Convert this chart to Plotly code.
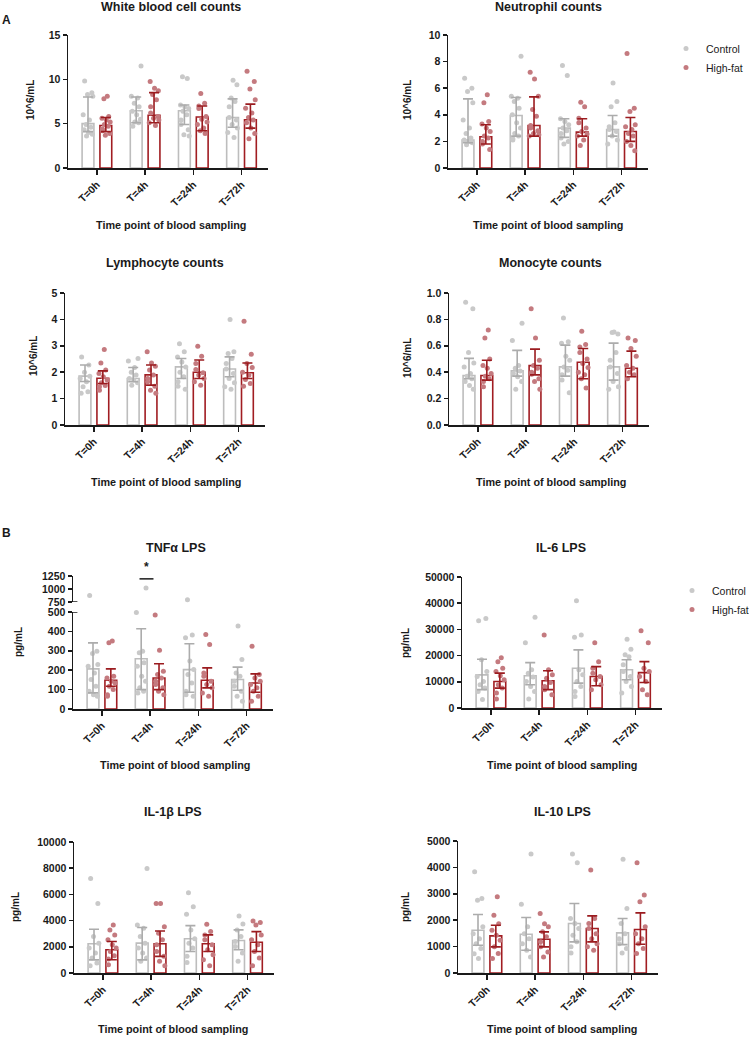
import plotly.graph_objects as go

W, H = 749, 1037
TIMES = ["T=0h", "T=4h", "T=24h", "T=72h"]
GROUPS = ["Control", "High-fat"]

# ---------------- data (median, Q1, Q3, individual points) ----------------
# White blood cell counts (10^6/mL)
WBC_CTRL_MED = [5.0, 6.45, 6.45, 5.7]
WBC_CTRL_LO = [4.1, 5.1, 4.9, 4.6]
WBC_CTRL_HI = [8.0, 8.0, 7.1, 7.8]
WBC_HF_MED = [4.8, 5.95, 5.75, 5.45]
WBC_HF_LO = [4.1, 5.1, 4.2, 4.5]
WBC_HF_HI = [5.7, 8.5, 7.0, 7.2]
WBC_CTRL_PTS = [[9.8, 8.5, 8.3, 8.1, 6.0, 5.4, 4.9, 4.6, 4.3, 4.0, 3.8, 3.6],
                [11.5, 8.1, 7.9, 7.3, 6.9, 6.4, 6.0, 5.5, 5.2, 5.1, 4.7],
                [10.3, 10.1, 7.1, 6.9, 6.7, 6.4, 6.0, 5.4, 4.9, 4.3, 3.75, 3.6],
                [9.9, 9.4, 7.9, 7.5, 6.9, 5.7, 5.4, 4.9, 4.5, 4.0, 3.45]]
WBC_HF_PTS = [[8.1, 7.8, 5.8, 5.6, 5.4, 5.2, 4.9, 4.7, 4.4, 4.2, 3.9, 3.7],
              [9.75, 9.0, 8.7, 8.3, 7.7, 6.9, 6.2, 5.8, 5.6, 5.4, 5.1, 4.8],
              [8.4, 7.3, 7.0, 6.7, 5.8, 5.5, 5.2, 4.9, 4.5, 4.2, 3.9],
              [10.9, 9.75, 8.9, 7.7, 6.75, 6.2, 5.7, 5.4, 5.1, 4.5, 3.9, 3.3]]

# Neutrophil counts (10^6/mL)
NEU_CTRL_MED = [2.1, 3.95, 3.0, 2.9]
NEU_CTRL_LO = [1.9, 2.4, 2.3, 2.4]
NEU_CTRL_HI = [5.2, 5.3, 3.7, 3.95]
NEU_HF_MED = [2.35, 3.2, 2.7, 2.75]
NEU_HF_LO = [1.8, 2.4, 2.4, 2.0]
NEU_HF_HI = [3.25, 5.35, 3.7, 3.8]
NEU_CTRL_PTS = [[6.75, 6.0, 5.75, 4.9, 3.6, 3.0, 2.6, 2.25, 2.1, 2.0, 1.9, 1.75],
                [8.4, 5.4, 5.25, 5.0, 4.5, 4.0, 3.4, 3.0, 2.6, 2.4, 2.2, 2.1],
                [7.7, 6.95, 3.7, 3.5, 3.25, 3.0, 2.8, 2.6, 2.25, 2.0, 1.8],
                [6.4, 5.0, 4.6, 3.4, 3.1, 2.9, 2.75, 2.4, 2.1, 1.8]]
NEU_HF_PTS = [[5.5, 4.9, 3.5, 3.3, 3.0, 2.75, 2.4, 2.25, 2.0, 1.8, 1.4],
              [7.2, 6.7, 5.4, 4.4, 3.9, 3.2, 3.0, 2.8, 2.6, 2.5, 2.4],
              [4.95, 4.6, 3.75, 3.4, 3.0, 2.75, 2.55, 2.4, 2.1, 1.7],
              [8.6, 4.5, 4.25, 3.25, 3.1, 2.9, 2.6, 2.4, 2.0, 1.7, 1.3]]

# Lymphocyte counts (10^6/mL)
LYM_CTRL_MED = [1.85, 1.76, 2.2, 2.12]
LYM_CTRL_LO = [1.65, 1.64, 1.76, 1.83]
LYM_CTRL_HI = [2.27, 2.18, 2.52, 2.58]
LYM_HF_MED = [1.77, 1.9, 2.0, 1.98]
LYM_HF_LO = [1.57, 1.51, 1.76, 1.76]
LYM_HF_HI = [2.05, 2.27, 2.46, 2.35]
LYM_CTRL_PTS = [[2.58, 2.27, 2.0, 1.85, 1.76, 1.64, 1.45, 1.26, 1.2],
                [2.52, 2.42, 2.18, 2.0, 1.89, 1.76, 1.7, 1.6, 1.51],
                [3.08, 2.77, 2.58, 2.39, 2.2, 2.0, 1.83, 1.64, 1.47, 1.35],
                [4.0, 2.77, 2.71, 2.52, 2.33, 2.12, 1.95, 1.76, 1.6, 1.45, 1.35]]
LYM_HF_PTS = [[2.86, 2.35, 2.08, 1.95, 1.83, 1.7, 1.6, 1.5, 1.45, 1.32],
              [2.77, 2.35, 2.23, 2.08, 1.89, 1.76, 1.64, 1.47, 1.32, 1.2],
              [2.98, 2.6, 2.33, 2.1, 1.98, 1.89, 1.76, 1.64, 1.51],
              [3.93, 2.68, 2.33, 2.18, 2.0, 1.89, 1.72, 1.57, 1.47]]

# Monocyte counts (10^6/mL)
MON_CTRL_MED = [0.375, 0.41, 0.44, 0.44]
MON_CTRL_LO = [0.35, 0.37, 0.37, 0.34]
MON_CTRL_HI = [0.505, 0.565, 0.605, 0.62]
MON_HF_MED = [0.375, 0.45, 0.475, 0.43]
MON_HF_LO = [0.34, 0.38, 0.35, 0.365]
MON_HF_HI = [0.49, 0.575, 0.58, 0.56]
MON_CTRL_PTS = [[0.93, 0.88, 0.55, 0.47, 0.44, 0.39, 0.37, 0.35, 0.33, 0.30, 0.27],
                [0.77, 0.64, 0.45, 0.43, 0.41, 0.39, 0.365, 0.33, 0.27],
                [0.81, 0.63, 0.62, 0.52, 0.49, 0.44, 0.415, 0.38, 0.34, 0.245],
                [0.705, 0.69, 0.70, 0.55, 0.49, 0.44, 0.39, 0.33, 0.29, 0.27]]
MON_HF_PTS = [[0.72, 0.66, 0.50, 0.45, 0.43, 0.39, 0.37, 0.35, 0.33, 0.29],
              [0.88, 0.66, 0.49, 0.45, 0.43, 0.40, 0.385, 0.35, 0.33, 0.27],
              [0.71, 0.61, 0.59, 0.55, 0.50, 0.465, 0.435, 0.40, 0.38, 0.35, 0.28],
              [0.66, 0.64, 0.58, 0.52, 0.45, 0.43, 0.40, 0.38, 0.35]]

# TNF-alpha LPS (pg/mL)
TNF_CTRL_MED = [207, 259, 203, 152]
TNF_CTRL_LO = [83, 100, 86, 97]
TNF_CTRL_HI = [341, 414, 336, 216]
TNF_HF_MED = [148, 160, 148, 134]
TNF_HF_LO = [117, 100, 109, 86]
TNF_HF_HI = [207, 233, 212, 181]
TNF_CTRL_PTS = [[877, 298, 286, 229, 221, 186, 152, 117, 91, 74, 66],
                [1018, 497, 298, 290, 238, 221, 169, 143, 109, 91, 83],
                [792, 381, 367, 247, 203, 178, 134, 91, 74, 66],
                [428, 255, 186, 169, 143, 117, 91, 66, 40]]
TNF_HF_PTS = [[350, 341, 169, 160, 143, 134, 117, 100, 74, 66],
              [484, 303, 195, 178, 160, 143, 126, 109, 91, 74],
              [384, 333, 186, 169, 143, 126, 109, 83, 66],
              [324, 178, 160, 143, 126, 109, 91, 66, 40]]

# IL-6 LPS (pg/mL)
IL6_CTRL_MED = [12660, 12300, 15200, 14600]
IL6_CTRL_LO = [7000, 8900, 9500, 10800]
IL6_CTRL_HI = [18600, 17300, 22200, 18400]
IL6_HF_MED = [10100, 10400, 12000, 13500]
IL6_HF_LO = [7600, 7000, 8500, 9750]
IL6_HF_HI = [13300, 14200, 15800, 17700]
IL6_CTRL_PTS = [[33300, 34200, 18400, 13900, 12000, 10100, 8900, 7600, 6300, 3200],
                [34600, 24900, 14600, 13300, 11800, 10100, 8200, 6300, 3400],
                [40900, 27900, 27000, 14600, 12700, 10100, 8200, 6300, 4400],
                [26200, 22400, 20300, 19600, 16500, 13900, 12000, 10100, 8200, 5700]]
IL6_HF_PTS = [[19200, 17700, 15200, 13900, 12300, 10800, 8900, 7600, 5700, 3400],
              [27900, 14600, 12700, 11400, 9750, 8200, 7000, 5100],
              [24900, 17700, 15200, 13300, 12000, 10800, 8900, 7000],
              [29500, 24900, 15200, 13900, 12000, 10100, 7000, 5100]]

# IL-1beta LPS (pg/mL)
IL1_CTRL_MED = [2230, 2280, 2610, 2480]
IL1_CTRL_LO = [1000, 1000, 1640, 1770]
IL1_CTRL_HI = [3340, 3470, 3620, 3290]
IL1_HF_MED = [1770, 2230, 2230, 2350]
IL1_HF_LO = [1010, 1270, 1640, 1640]
IL1_HF_HI = [2400, 3210, 2910, 3160]
IL1_CTRL_PTS = [[7210, 5310, 2780, 2280, 1900, 1520, 1140, 760, 560],
                [7970, 3670, 3420, 2780, 2280, 1900, 1520, 1140, 890],
                [6120, 5060, 4480, 3290, 2610, 2280, 1900, 1270, 810],
                [4350, 3740, 3290, 2780, 2400, 2020, 1520, 890]]
IL1_HF_PTS = [[3670, 3290, 2910, 2530, 2150, 1900, 1640, 1320, 1060, 630],
              [5310, 5300, 3540, 3040, 2530, 2150, 1640, 1270, 890, 560],
              [3720, 3160, 2910, 2530, 2150, 1770, 1390, 1010, 560],
              [3970, 3850, 3670, 2910, 2530, 2150, 1640, 1140, 560]]

# IL-10 LPS (pg/mL)
IL10_CTRL_MED = [1620, 1470, 1874, 1520]
IL10_CTRL_LO = [1050, 860, 1180, 1076]
IL10_CTRL_HI = [2215, 2100, 2633, 2063]
IL10_HF_MED = [1405, 1280, 1684, 1646]
IL10_HF_LO = [990, 990, 1180, 1090]
IL10_HF_HI = [1810, 1557, 2165, 2279]
IL10_CTRL_PTS = [[3836, 2823, 2760, 1750, 1490, 1300, 1110, 925, 730, 545],
                 [4507, 2608, 1750, 1490, 1300, 1110, 860, 610],
                 [4507, 4178, 2063, 1874, 1684, 1430, 1180, 990, 760],
                 [4304, 2443, 1874, 1490, 1300, 1110, 925, 760]]
IL10_HF_PTS = [[2886, 2190, 1870, 1620, 1430, 1240, 990, 735, 545],
               [2253, 1870, 1750, 1560, 1370, 1180, 990, 800, 610],
               [3900, 2063, 1874, 1684, 1490, 1300, 1110, 990, 860],
               [4178, 2950, 2700, 1750, 1490, 1300, 1110, 925, 735]]

# ---------------- styling ----------------
FONT = "Liberation Sans, Arial, Helvetica, sans-serif"
TXT = "#1a1a1a"
CTRL_LINE = "#bdbdbd"
CTRL_DOT = "#c9c9c9"
CTRL_ERR = "#acacac"
HF_LINE = "#a11d22"
HF_DOT = "#c47a7f"
HF_ERR = "#9b1b1f"
OFF = 0.185
BW = 0.245
JIT = [-0.07, 0.08, -0.01, 0.10, -0.10, 0.03, -0.04, 0.06, -0.08, 0.01, 0.09, -0.03, 0.05, -0.07]
XR = [-0.6, 3.55]


def pxx(p):
    return p / W


def pxy(p):
    return 1 - p / H


panels = [
    dict(k=1, title="White blood cell counts", ylab="10^6/mL", x0=68, ytop=35, ybot=168,
         yr=[0, 15], tv=[0, 5, 10, 15], fmt="d",
         d=(WBC_CTRL_MED, WBC_CTRL_LO, WBC_CTRL_HI, WBC_HF_MED, WBC_HF_LO, WBC_HF_HI, WBC_CTRL_PTS, WBC_HF_PTS),
         tpos=(171, 7), ypos=(30, 100), xtpos=(171, 225), leg=None),
    dict(k=2, title="Neutrophil counts", ylab="10^6/mL", x0=448, ytop=35, ybot=168,
         yr=[0, 10], tv=[0, 2, 4, 6, 8, 10], fmt="d",
         d=(NEU_CTRL_MED, NEU_CTRL_LO, NEU_CTRL_HI, NEU_HF_MED, NEU_HF_LO, NEU_HF_HI, NEU_CTRL_PTS, NEU_HF_PTS),
         tpos=(548, 7), ypos=(407, 100), xtpos=(548, 225), leg="legend"),
    dict(k=3, title="Lymphocyte counts", ylab="10^6/mL", x0=65, ytop=293, ybot=425,
         yr=[0, 5], tv=[0, 1, 2, 3, 4, 5], fmt="d",
         d=(LYM_CTRL_MED, LYM_CTRL_LO, LYM_CTRL_HI, LYM_HF_MED, LYM_HF_LO, LYM_HF_HI, LYM_CTRL_PTS, LYM_HF_PTS),
         tpos=(165, 263), ypos=(33, 356), xtpos=(166, 482), leg=None),
    dict(k=4, title="Monocyte counts", ylab="10^6/mL", x0=449, ytop=293, ybot=425,
         yr=[0, 1.0], tv=[0, 0.2, 0.4, 0.6, 0.8, 1.0], fmt=".1f",
         d=(MON_CTRL_MED, MON_CTRL_LO, MON_CTRL_HI, MON_HF_MED, MON_HF_LO, MON_HF_HI, MON_CTRL_PTS, MON_HF_PTS),
         tpos=(550, 263), ypos=(407, 358), xtpos=(551, 482), leg=None),
    dict(k=5, title="TNFα LPS", ylab="pg/mL", x0=73, ytop=612, ybot=709,
         yr=[0, 500], tv=[0, 100, 200, 300, 400, 500], fmt="d",
         d=(TNF_CTRL_MED, TNF_CTRL_LO, TNF_CTRL_HI, TNF_HF_MED, TNF_HF_LO, TNF_HF_HI, TNF_CTRL_PTS, TNF_HF_PTS),
         tpos=(176, 548), ypos=(18, 642), xtpos=(175, 765), leg=None,
         upper=dict(k=10, ytop=576, ybot=602, yr=[750, 1250], tv=[750, 1000, 1250])),
    dict(k=6, title="IL-6 LPS", ylab="pg/mL", x0=462, ytop=577, ybot=708,
         yr=[0, 50000], tv=[0, 10000, 20000, 30000, 40000, 50000], fmt="d",
         d=(IL6_CTRL_MED, IL6_CTRL_LO, IL6_CTRL_HI, IL6_HF_MED, IL6_HF_LO, IL6_HF_HI, IL6_CTRL_PTS, IL6_HF_PTS),
         tpos=(561, 548), ypos=(405, 643), xtpos=(562, 765), leg="legend2"),
    dict(k=7, title="IL-1β LPS", ylab="pg/mL", x0=74, ytop=842, ybot=973,
         yr=[0, 10000], tv=[0, 2000, 4000, 6000, 8000, 10000], fmt="d",
         d=(IL1_CTRL_MED, IL1_CTRL_LO, IL1_CTRL_HI, IL1_HF_MED, IL1_HF_LO, IL1_HF_HI, IL1_CTRL_PTS, IL1_HF_PTS),
         tpos=(173, 812), ypos=(15, 907), xtpos=(173, 1029), leg=None),
    dict(k=8, title="IL-10 LPS", ylab="pg/mL", x0=458, ytop=841, ybot=973,
         yr=[0, 5000], tv=[0, 1000, 2000, 3000, 4000, 5000], fmt="d",
         d=(IL10_CTRL_MED, IL10_CTRL_LO, IL10_CTRL_HI, IL10_HF_MED, IL10_HF_LO, IL10_HF_HI, IL10_CTRL_PTS, IL10_HF_PTS),
         tpos=(562, 812), ypos=(405, 907), xtpos=(562, 1029), leg=None),
]

fig = go.Figure()
layout = {}
annotations = []
shapes = []

tickfont = dict(family=FONT, size=10.5, color=TXT, weight="bold")
axis_common = dict(showline=True, linewidth=1.5, linecolor=TXT, ticks="outside", tickwidth=1.5,
                   tickcolor=TXT, showgrid=False, zeroline=False, fixedrange=True, tickfont=tickfont,
                   automargin=False)

for p in panels:
    k = p["k"]
    xa = "x%d" % k
    ya = "y%d" % k
    x1 = p["x0"] + 200
    layout["xaxis%d" % k] = dict(axis_common, domain=[pxx(p["x0"]), pxx(x1)], range=XR, anchor=ya,
                                 tickvals=list(range(len(TIMES))), ticktext=TIMES, tickangle=-45, ticklen=5)
    layout["yaxis%d" % k] = dict(axis_common, domain=[pxy(p["ybot"]), pxy(p["ytop"])], range=p["yr"],
                                 anchor=xa, tickvals=p["tv"], tickformat=p["fmt"], ticklen=4)
    cm, cl, ch, hm, hl, hh, cp, hp = p["d"]
    up = p.get("upper")
    if up:
        uy = "y%d" % up["k"]
        layout["yaxis%d" % up["k"]] = dict(axis_common, domain=[pxy(up["ybot"]), pxy(up["ytop"])],
                                           range=up["yr"], anchor=xa, tickvals=up["tv"], tickformat="d",
                                           ticklen=4)
    limit = p["yr"][1]

    for gi, (med, lo, hi, pts, lc, dc, ec) in enumerate([
            (cm, cl, ch, cp, CTRL_LINE, CTRL_DOT, CTRL_ERR),
            (hm, hl, hh, hp, HF_LINE, HF_DOT, HF_ERR)]):
        off = -OFF if gi == 0 else OFF
        centers = [i + off for i in range(len(TIMES))]
        fig.add_trace(go.Bar(x=centers, y=med, width=BW, xaxis=xa, yaxis=ya,
                             marker=dict(color="white", line=dict(color=lc, width=1.6)),
                             showlegend=False, hoverinfo="skip"))
        px_, py_, ux_, uy_ = [], [], [], []
        for i, vals in enumerate(pts):
            for j, v in enumerate(vals):
                xx = i + off + JIT[(j + 3 * i + 5 * gi) % len(JIT)]
                if up and v > limit:
                    ux_.append(xx)
                    uy_.append(v)
                else:
                    px_.append(xx)
                    py_.append(v)
        show = p["leg"] is not None
        fig.add_trace(go.Scatter(x=px_, y=py_, mode="markers", xaxis=xa, yaxis=ya,
                                 marker=dict(color=dc, size=5), name=GROUPS[gi], cliponaxis=False,
                                 showlegend=show, legend=p["leg"] if show else "legend"))
        if up and ux_:
            fig.add_trace(go.Scatter(x=ux_, y=uy_, mode="markers", xaxis=xa, yaxis=uy,
                                     marker=dict(color=dc, size=5), cliponaxis=False, showlegend=False))
        fig.add_trace(go.Scatter(x=centers, y=med, mode="markers", xaxis=xa, yaxis=ya,
                                 marker=dict(color="rgba(0,0,0,0)", size=1), showlegend=False,
                                 cliponaxis=False, hoverinfo="skip",
                                 error_y=dict(type="data", symmetric=False,
                                              array=[h - m for h, m in zip(hi, med)],
                                              arrayminus=[m - l for m, l in zip(med, lo)],
                                              color=ec, thickness=1.6, width=5)))

    # text
    annotations.append(dict(text=p["title"], x=pxx(p["tpos"][0]), y=pxy(p["tpos"][1]), xref="paper",
                            yref="paper", showarrow=False, xanchor="center", yanchor="middle",
                            font=dict(family=FONT, size=12.5, color=TXT, weight="bold")))
    annotations.append(dict(text=p["ylab"], x=pxx(p["ypos"][0]), y=pxy(p["ypos"][1]), xref="paper",
                            yref="paper", showarrow=False, xanchor="center", yanchor="middle",
                            textangle=-90, font=dict(family=FONT, size=10, color=TXT, weight="bold")))
    annotations.append(dict(text="Time point of blood sampling", x=pxx(p["xtpos"][0]), y=pxy(p["xtpos"][1]),
                            xref="paper", yref="paper", showarrow=False, xanchor="center",
                            yanchor="middle", font=dict(family=FONT, size=10.8, color=TXT, weight="bold")))

# panel letters
for letter, (lx, ly) in [("A", (7, 20)), ("B", (6, 533))]:
    annotations.append(dict(text=letter, x=pxx(lx), y=pxy(ly), xref="paper", yref="paper", showarrow=False,
                            xanchor="center", yanchor="middle",
                            font=dict(family=FONT, size=12, color=TXT, weight="bold")))

# significance marker at T=4h (TNFα)
shapes.append(dict(type="line", xref="x5", yref="y10", x0=1 - 0.22, x1=1 + 0.07, y0=1195, y1=1195,
                   line=dict(color=TXT, width=1.5)))
annotations.append(dict(text="*", x=1 - 0.08, y=1250, xref="x5", yref="y10", showarrow=False,
                        yanchor="bottom", font=dict(family=FONT, size=12, color=TXT, weight="bold")))
# axis-break marks
shapes.append(dict(type="line", xref="x5 domain", yref="y10", x0=0, x1=0.022, y0=750, y1=750,
                   line=dict(color=TXT, width=1.5)))
shapes.append(dict(type="line", xref="x5 domain", yref="y5", x0=0, x1=0.022, y0=500, y1=500,
                   line=dict(color=TXT, width=1.5)))

legend_style = dict(xanchor="left", yanchor="top", bgcolor="rgba(0,0,0,0)", itemwidth=30,
                    font=dict(family=FONT, size=10.5, color=TXT), tracegroupgap=0)
layout["legend"] = dict(legend_style, x=pxx(666), y=pxy(34))
layout["legend2"] = dict(legend_style, x=pxx(672), y=pxy(576))

fig.update_layout(**layout)
fig.update_layout(width=W, height=H, margin=dict(l=0, r=0, t=0, b=0, autoexpand=False),
                  paper_bgcolor="white", plot_bgcolor="white", barmode="overlay",
                  annotations=annotations, shapes=shapes,
                  font=dict(family=FONT, color=TXT), hovermode=False)

fig.write_html("out.html", config={"displayModeBar": False, "staticPlot": True},
               post_script="document.body.style.margin='0';document.body.style.overflow='hidden';")
